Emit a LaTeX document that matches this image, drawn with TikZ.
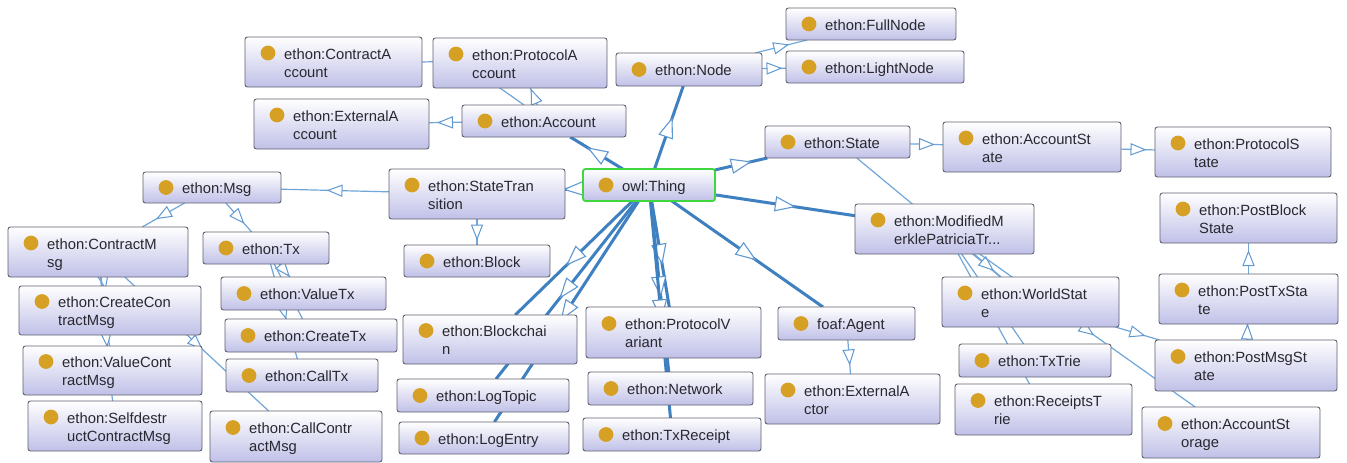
\documentclass[tikz,border=0pt]{standalone}
\usepackage{fontspec}
\setmainfont{Liberation Sans}
\usetikzlibrary{decorations.markings}

\definecolor{boxline}{RGB}{96,96,112}
\definecolor{boxlow}{RGB}{192,192,232}
\definecolor{thingline}{RGB}{64,214,64}
\definecolor{dotgold}{RGB}{214,160,36}
\definecolor{edgethick}{RGB}{62,128,192}
\definecolor{edgethin}{RGB}{112,166,216}
\definecolor{tipline}{RGB}{96,152,210}
\definecolor{labeltext}{RGB}{40,40,48}

\pgfdeclarelayer{bg}
\pgfdeclarelayer{edges}
\pgfsetlayers{bg,edges,main}

\tikzset{
  clsbox/.style={draw=boxline, line width=0.9pt, rounded corners=2.5pt,
    top color=white, bottom color=boxlow, inner sep=0pt, outer sep=0pt},
  rootbox/.style={draw=thingline, line width=1.8pt},
  clslabel/.style={font=\fontsize{14.8}{18}\selectfont, text=labeltext,
    inner sep=0pt, anchor=west, text height=12pt, text depth=0pt},
  clsdot/.style={fill=dotgold},
  subthick/.style={draw=edgethick, line width=3pt,
    postaction={decorate, decoration={markings, mark=at position 0.5 with
      {\filldraw[fill=white, draw=tipline, line width=1.1pt, line join=miter]
        (9.5pt,0pt) -- (-9.5pt,7pt) -- (-9.5pt,-7pt) -- cycle;}}}},
  subthin/.style={draw=edgethin, line width=1.2pt,
    postaction={decorate, decoration={markings, mark=at position 0.5 with
      {\filldraw[fill=white, draw=tipline, line width=1pt, line join=miter]
        (7pt,0pt) -- (-7pt,5.5pt) -- (-7pt,-5.5pt) -- cycle;}}}}
}

% one-line class box: [extra style]{name}{x1}{y1}{x2}{y2}{label}
\newcommand{\owlone}[7][]{%
  \pgfmathsetmacro\owlW{#5-#3}\pgfmathsetmacro\owlH{#6-#4}%
  \pgfmathsetmacro\owlX{(#3+#5)/2}\pgfmathsetmacro\owlY{(#4+#6)/2}%
  \node[clsbox,#1,minimum width=\owlW pt,minimum height=\owlH pt] (#2) at (\owlX,\owlY) {};
  \fill[clsdot] ([xshift=23pt]#2.west) circle (7.4pt);
  \node[clslabel] (#2-a) at ([xshift=39pt]#2.west) {#7};
}
% two-line class box: {name}{x1}{y1}{x2}{y2}{line one}{line two}
\newcommand{\owltwo}[7]{%
  \pgfmathsetmacro\owlW{#4-#2}\pgfmathsetmacro\owlH{#5-#3}%
  \pgfmathsetmacro\owlX{(#2+#4)/2}\pgfmathsetmacro\owlY{(#3+#5)/2}%
  \node[clsbox,minimum width=\owlW pt,minimum height=\owlH pt] (#1) at (\owlX,\owlY) {};
  \fill[clsdot] ([xshift=23pt,yshift=9pt]#1.west) circle (7.4pt);
  \node[clslabel] (#1-a) at ([xshift=39pt,yshift=9pt]#1.west) {#6};
  \node[clslabel] (#1-b) at ([xshift=39pt,yshift=-9pt]#1.west) {#7};
}

\begin{document}
\begin{tikzpicture}[x=1pt,y=-1pt]
\useasboundingbox (0,0) rectangle (1347,463);
\begin{pgfonlayer}{bg}
  \fill[white] (0,0) rectangle (1347,463);
\end{pgfonlayer}

% classes
\owltwo{contractaccount}{245}{37}{422}{87}{ethon:ContractA}{ccount}
\owltwo{protocolaccount}{433}{38}{607}{88}{ethon:ProtocolA}{ccount}
\owltwo{externalaccount}{254}{99}{429}{149}{ethon:ExternalA}{ccount}
\owlone{account}{462}{105}{626}{137}{ethon:Account}
\owlone{node}{616}{53}{762}{86}{ethon:Node}
\owlone{fullnode}{786}{8}{956}{40}{ethon:FullNode}
\owlone{lightnode}{786}{51}{964}{83}{ethon:LightNode}
\owlone{state}{765}{126}{910}{158}{ethon:State}
\owltwo{accountstate}{943}{122}{1121}{172}{ethon:AccountSt}{ate}
\owltwo{protocolstate}{1155}{127}{1331}{177}{ethon:ProtocolS}{tate}
\owlone[rootbox]{thing}{583}{169}{715}{201}{owl:Thing}
\owltwo{statetransition}{389}{169}{565}{219}{ethon:StateTran}{sition}
\owlone{msg}{143}{172}{281}{203}{ethon:Msg}
\owltwo{contractmsg}{8}{227}{188}{277}{ethon:ContractM}{sg}
\owlone{tx}{203}{232}{329}{264}{ethon:Tx}
\owlone{block}{404}{245}{550}{277}{ethon:Block}
\owltwo{mmpt}{855}{204}{1034}{254}{ethon:ModifiedM}{erklePatriciaTr...}
\owltwo{postblockstate}{1160}{193}{1337}{243}{ethon:PostBlock}{State}
\owlone{valuetx}{221}{277}{386}{310}{ethon:ValueTx}
\owltwo{createcontractmsg}{19}{286}{201}{335}{ethon:CreateCon}{tractMsg}
\owlone{createtx}{225}{319}{397}{352}{ethon:CreateTx}
\owltwo{blockchain}{403}{315}{577}{364}{ethon:Blockchai}{n}
\owltwo{protocolvariant}{586}{307}{761}{358}{ethon:ProtocolV}{ariant}
\owlone{agent}{778}{307}{915}{340}{foaf:Agent}
\owltwo{worldstate}{942}{277}{1119}{327}{ethon:WorldStat}{e}
\owltwo{posttxstate}{1159}{274}{1338}{324}{ethon:PostTxSta}{te}
\owltwo{valuecontractmsg}{23}{346}{202}{395}{ethon:ValueCont}{ractMsg}
\owlone{calltx}{226}{359}{378}{392}{ethon:CallTx}
\owlone{txtrie}{959}{344}{1111}{377}{ethon:TxTrie}
\owltwo{postmsgstate}{1155}{340}{1337}{391}{ethon:PostMsgSt}{ate}
\owltwo{externalactor}{765}{374}{940}{424}{ethon:ExternalA}{ctor}
\owlone{network}{588}{372}{753}{405}{ethon:Network}
\owlone{logtopic}{397}{379}{569}{412}{ethon:LogTopic}
\owltwo{receiptstrie}{955}{384}{1132}{435}{ethon:ReceiptsT}{rie}
\owlone{logentry}{399}{422}{569}{454}{ethon:LogEntry}
\owlone{txreceipt}{583}{418}{761}{451}{ethon:TxReceipt}
\owltwo{selfdestruct}{28}{401}{202}{451}{ethon:Selfdestr}{uctContractMsg}
\owltwo{callcontractmsg}{210}{411}{382}{462}{ethon:CallContr}{actMsg}
\owltwo{accountstorage}{1142}{407}{1320}{458}{ethon:AccountSt}{orage}

% subclass links, drawn beneath the boxes
\begin{pgfonlayer}{edges}
  \draw[subthick] (thing) -- (account);
  \draw[subthick] (thing) -- (node);
  \draw[subthick] (thing) -- (statetransition);
  \draw[subthick] (thing) -- (state);
  \draw[subthick] (thing) -- (mmpt);
  \draw[subthick] (thing) -- (agent);
  \draw[subthick] (thing) -- (protocolvariant);
  \draw[subthick] (thing) -- (network);
  \draw[subthick] (thing) -- (txreceipt);
  \draw[subthick] (thing) -- (blockchain);
  \draw[subthick] (thing) -- (logtopic);
  \draw[subthick] (thing) -- (logentry);

  \draw[subthin] (account) -- (externalaccount);
  \draw[subthin] (account) -- (protocolaccount);
  \draw[subthin] ([xshift=62pt]account.north west) .. controls (462,61) .. (contractaccount.east);
  \draw[subthin] (node) -- (fullnode);
  \draw[subthin] (node) -- (lightnode);
  \draw[subthin] (state) -- (accountstate);
  \draw[subthin] (accountstate) -- (protocolstate);
  \draw[subthin] (state) -- (worldstate);
  \draw[subthin] (mmpt) -- (worldstate);
  \draw[subthin] (mmpt) -- (txtrie);
  \draw[subthin] (mmpt) -- (receiptstrie);
  \draw[subthin] (mmpt) -- (accountstorage);
  \draw[subthin] (worldstate) -- (postmsgstate);
  \draw[subthin] (postmsgstate) -- (posttxstate);
  \draw[subthin] (posttxstate) -- (postblockstate);
  \draw[subthin] (agent) -- (externalactor);
  \draw[subthin] (statetransition) -- (msg);
  \draw[subthin] (statetransition) -- (block);
  \draw[subthin] (msg) -- (contractmsg);
  \draw[subthin] (msg) -- (tx);
  \draw[subthin] (tx) -- (valuetx);
  \draw[subthin] (tx) -- (createtx);
  \draw[subthin] (tx) -- (calltx);
  \draw[subthin] (contractmsg) -- (createcontractmsg);
  \draw[subthin] (contractmsg) -- (valuecontractmsg);
  \draw[subthin] (contractmsg) -- (selfdestruct);
  \draw[subthin] (contractmsg) -- (callcontractmsg);
\end{pgfonlayer}
\end{tikzpicture}
\end{document}
